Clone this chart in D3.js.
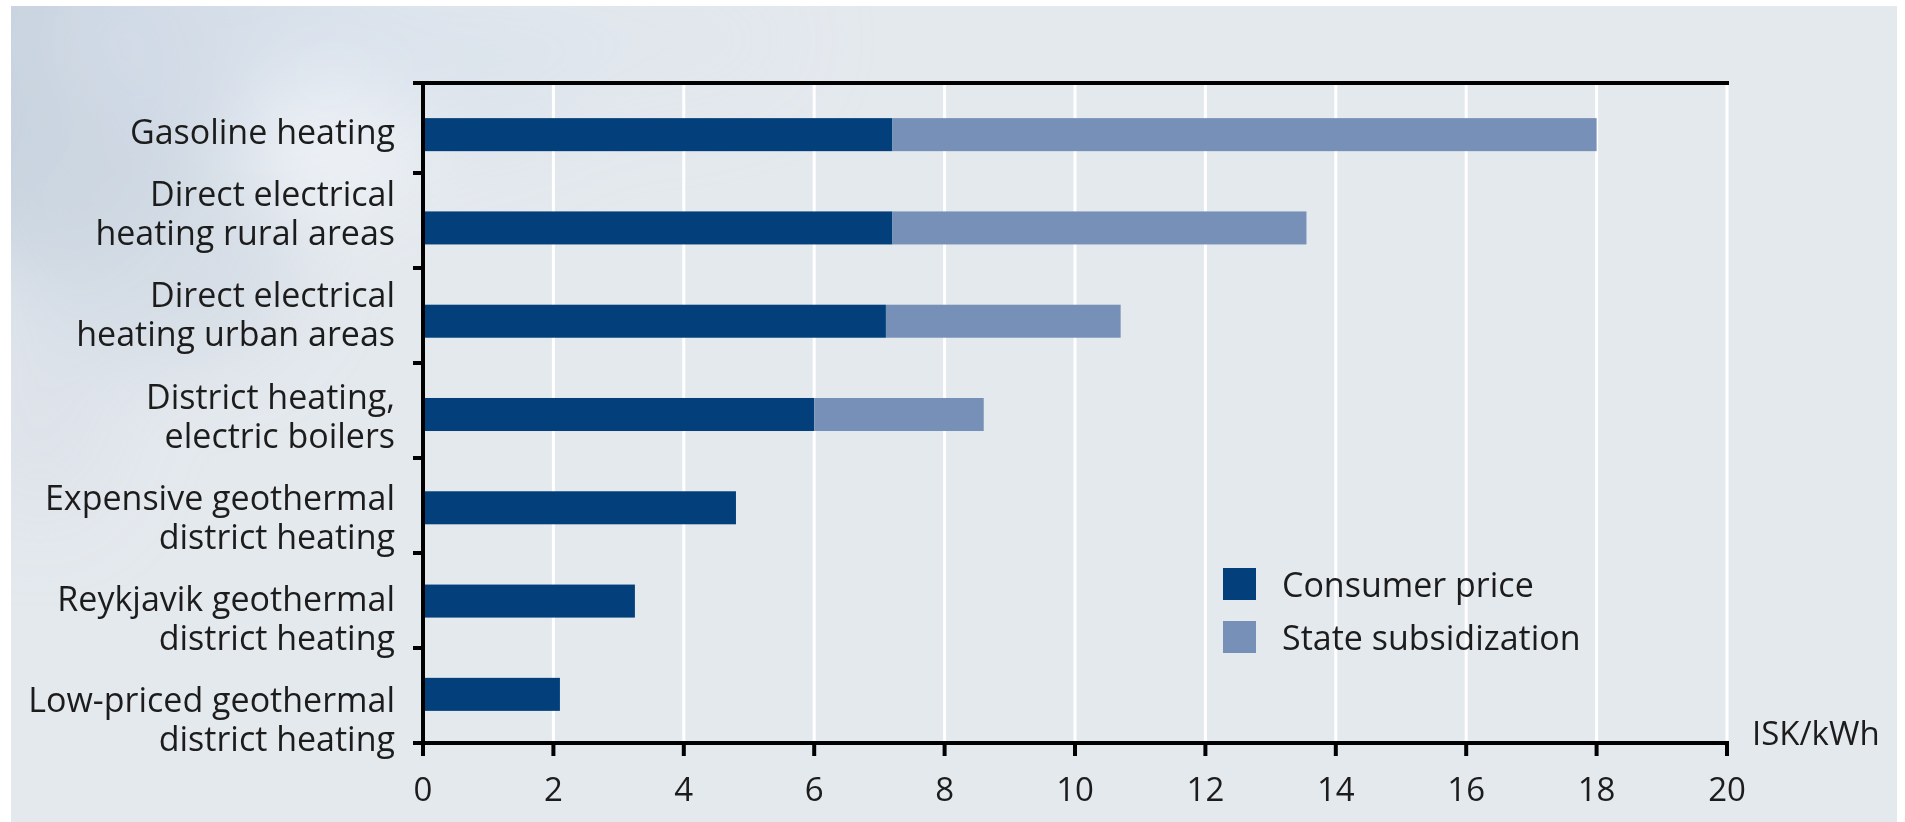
<!DOCTYPE html>
<html>
<head>
<meta charset="utf-8">
<script src="https://cdn.jsdelivr.net/npm/d3@7"></script>
<style>
  html, body { margin: 0; padding: 0; background: #ffffff; }
  svg { display: block; }
  text { font-family: "Open Sans", "Noto Sans", sans-serif; fill: #1c1c1c; }
</style>
</head>
<body>
<svg id="chart" width="1905" height="822"></svg>
<script>
// Heating cost per kWh by heating type
const categories = [
  ["Gasoline heating"],
  ["Direct electrical", "heating rural areas"],
  ["Direct electrical", "heating urban areas"],
  ["District heating,", "electric boilers"],
  ["Expensive geothermal", "district heating"],
  ["Reykjavik geothermal", "district heating"],
  ["Low-priced geothermal", "district heating"]
];
const consumerPrice   = [7.2, 7.2, 7.1, 6.0, 4.8, 3.25, 2.1];
const stateSubsidy    = [10.8, 6.35, 3.6, 2.6, 0, 0, 0];
const seriesNames     = ["Consumer price", "State subsidization"];
const seriesColors    = ["#023f7b", "#7690b8"];
const xTicks          = [0, 2, 4, 6, 8, 10, 12, 14, 16, 18, 20];
const unitLabel       = "ISK/kWh";

const keys = categories.map(c => c.join(" "));
const svg = d3.select("#chart");

// Panel background with a soft cloudy wash in the upper left
const defs = svg.append("defs");
defs.append("filter").attr("id", "soft")
  .attr("x", "-50%").attr("y", "-50%").attr("width", "200%").attr("height", "200%")
  .append("feGaussianBlur").attr("stdDeviation", 40);
defs.append("clipPath").attr("id", "panelClip")
  .append("rect").attr("x", 11).attr("y", 6).attr("width", 1886).attr("height", 816);

svg.append("rect").attr("x", 11).attr("y", 6).attr("width", 1886).attr("height", 816)
  .attr("fill", "#e4e9ee");
const wash = svg.append("g").attr("clip-path", "url(#panelClip)").attr("filter", "url(#soft)");
[
  [50, 80, 150, 200, "#c2cfdc", 0.85],
  [230, 40, 190, 110, "#d2dce8", 0.85],
  [150, 250, 150, 120, "#d0d9e3", 0.75],
  [430, 60, 180, 90, "#dbe3ec", 0.85],
  [330, 150, 90, 70, "#eef2f7", 0.85],
  [620, 40, 170, 60, "#e0e6ed", 0.7],
  [40, 400, 80, 120, "#d8dfe8", 0.6]
].forEach(([cx, cy, rx, ry, col, op]) => {
  wash.append("ellipse").attr("cx", cx).attr("cy", cy).attr("rx", rx).attr("ry", ry)
    .attr("fill", col).attr("opacity", op);
});

// Scales
const x = d3.scaleLinear().domain([0, 20]).range([423, 1727]);
const yBar = d3.scaleBand().domain(keys).range([88, 741]).paddingInner(0.646).paddingOuter(0.323);
const yTick = d3.scaleBand().domain(keys).range([78, 743]);
const yLabel = d3.scalePoint().domain(keys).range([144, 751]);
const plotTop = 83, plotBottom = 743;

// Vertical gridlines
svg.append("g").selectAll("line").data(xTicks.filter(d => d > 0)).join("line")
  .attr("x1", d => x(d)).attr("x2", d => x(d))
  .attr("y1", plotTop).attr("y2", plotBottom)
  .attr("stroke", "#ffffff").attr("stroke-width", 3);

// Stacked bars
const stackData = keys.map((k, i) => ({ key: k, c: consumerPrice[i], s: stateSubsidy[i] }));
const stack = d3.stack().keys(["c", "s"])(stackData);
svg.append("g").selectAll("g").data(stack).join("g")
  .attr("fill", (d, i) => seriesColors[i])
  .selectAll("rect").data(d => d.filter(p => p[1] > p[0])).join("rect")
  .attr("x", d => x(d[0]))
  .attr("width", d => x(d[1]) - x(d[0]))
  .attr("y", d => yBar(d.data.key))
  .attr("height", yBar.bandwidth());

// Frame: top rule, left axis with ticks, bottom axis with ticks
const axisG = svg.append("g").attr("stroke", "#000").attr("stroke-width", 4).attr("fill", "none");
axisG.append("line").attr("x1", 413).attr("x2", x(20) + 2).attr("y1", plotTop).attr("y2", plotTop);
axisG.append("line").attr("x1", x(0)).attr("x2", x(0)).attr("y1", plotTop - 2).attr("y2", plotBottom + 13);
axisG.append("line").attr("x1", 413).attr("x2", x(20) + 2).attr("y1", plotBottom).attr("y2", plotBottom);
axisG.selectAll(".ytick").data(keys.slice(0, -1)).join("line").attr("class", "ytick")
  .attr("x1", 413).attr("x2", x(0))
  .attr("y1", d => yTick(d) + yTick.bandwidth()).attr("y2", d => yTick(d) + yTick.bandwidth());
axisG.selectAll(".xtick").data(xTicks).join("line").attr("class", "xtick")
  .attr("x1", d => x(d)).attr("x2", d => x(d))
  .attr("y1", plotBottom).attr("y2", plotBottom + 13);

// X tick labels
svg.append("g").selectAll("text").data(xTicks).join("text")
  .attr("x", d => x(d)).attr("y", 801)
  .attr("text-anchor", "middle").attr("font-size", 33)
  .text(d => d);

svg.append("text").attr("x", 1752).attr("y", 745).attr("font-size", 33).text(unitLabel);

// Category labels (right aligned, last line on the label scale)
const lineGap = 39;
const lab = svg.append("g").selectAll("text").data(categories).join("text")
  .attr("text-anchor", "end").attr("font-size", 34)
  .attr("x", 395)
  .attr("y", (d, i) => yLabel(keys[i]) - (d.length - 1) * lineGap);
lab.selectAll("tspan").data(d => d).join("tspan")
  .attr("x", 395).attr("dy", (d, i) => i === 0 ? 0 : lineGap)
  .text(d => d);

// Legend
const legend = svg.append("g").attr("transform", "translate(1223,568)");
seriesNames.forEach((name, i) => {
  legend.append("rect").attr("x", 0).attr("y", i * 53).attr("width", 33).attr("height", 32)
    .attr("fill", seriesColors[i]);
  legend.append("text").attr("x", 59).attr("y", i * 53 + 29).attr("font-size", 34).text(name);
});
</script>
</body>
</html>
